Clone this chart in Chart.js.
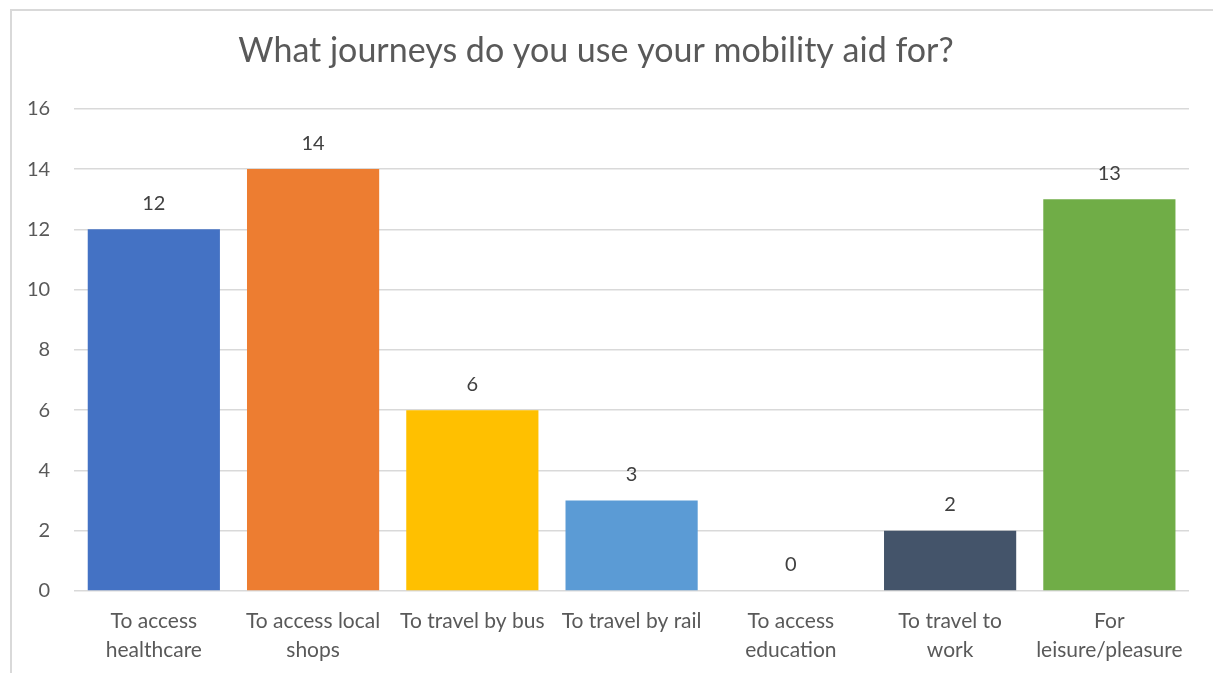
<!DOCTYPE html>
<html>
<head>
<meta charset="utf-8">
<script src="https://cdn.jsdelivr.net/npm/chart.js@4.4.0/dist/chart.umd.min.js"></script>
<style>
  html, body { margin: 0; padding: 0; background: #fff; overflow: hidden; }
  #frame {
    position: absolute; left: 10px; top: 9px;
    width: 1230px; height: 700px;
    border: 2px solid #d9d9d9; box-sizing: border-box;
  }
  #wrap { position: absolute; left: 0; top: 0; width: 1213px; height: 673px; }
</style>
</head>
<body>
<div id="frame"></div>
<div id="wrap"><canvas id="chart"></canvas></div>
<script>
// 資料
const categories = [
    ['To access', 'healthcare'],
    ['To access local', 'shops'],
    'To travel by bus',
    'To travel by rail',
    ['To access', 'education'],
    ['To travel to', 'work'],
    ['For', 'leisure/pleasure']
];
const counts = [12, 14, 6, 3, 0, 2, 13];
const barColors = ['#4472C4', '#ED7D31', '#FFC000', '#5B9BD5', '#A5A5A5', '#44546A', '#70AD47'];
const yTicks = [0, 2, 4, 6, 8, 10, 12, 14, 16];

const FONT = "Lato, 'Open Sans', sans-serif";
const TEXT = '#595959';

// 在長條上方畫數值
const valueLabels = {
    id: 'valueLabels',
    afterDatasetsDraw(chart) {
        const ctx = chart.ctx;
        const meta = chart.getDatasetMeta(0);
        ctx.save();
        ctx.font = '20px ' + FONT;
        ctx.fillStyle = '#404040';
        ctx.textAlign = 'center';
        ctx.textBaseline = 'middle';
        meta.data.forEach((bar, i) => {
            ctx.fillText(String(counts[i]), bar.x, bar.y - 26);
        });
        ctx.restore();
    }
};

new Chart(document.getElementById('chart'), {
    type: 'bar',
    data: {
        labels: categories,
        datasets: [{
            data: counts,
            backgroundColor: barColors,
            borderWidth: 0,
            categoryPercentage: 1,
            barPercentage: 0.83
        }]
    },
    options: {
        responsive: true,
        maintainAspectRatio: false,
        animation: false,
        layout: { padding: { left: 3, right: 24, top: 16, bottom: 0 } },
        plugins: {
            legend: { display: false },
            tooltip: { enabled: false },
            title: {
                display: true,
                text: 'What journeys do you use your mobility aid for?',
                color: TEXT,
                font: { family: FONT, size: 34, weight: 'normal' },
                padding: { top: 15, bottom: 37 }
            }
        },
        scales: {
            y: {
                min: 0,
                max: 16,
                afterBuildTicks(axis) {
                    axis.ticks = yTicks.map(v => ({ value: v }));
                },
                grid: { color: '#d9d9d9', lineWidth: 1.5, drawTicks: false },
                border: { display: false },
                ticks: {
                    color: TEXT,
                    font: { family: FONT, size: 20 },
                    padding: 24
                }
            },
            x: {
                grid: { display: false },
                border: { display: false },
                ticks: {
                    color: TEXT,
                    font: { family: FONT, size: 21, lineHeight: 1.38 },
                    maxRotation: 0,
                    autoSkip: false,
                    padding: 8
                }
            }
        }
    },
    plugins: [valueLabels]
});
</script>
</body>
</html>
